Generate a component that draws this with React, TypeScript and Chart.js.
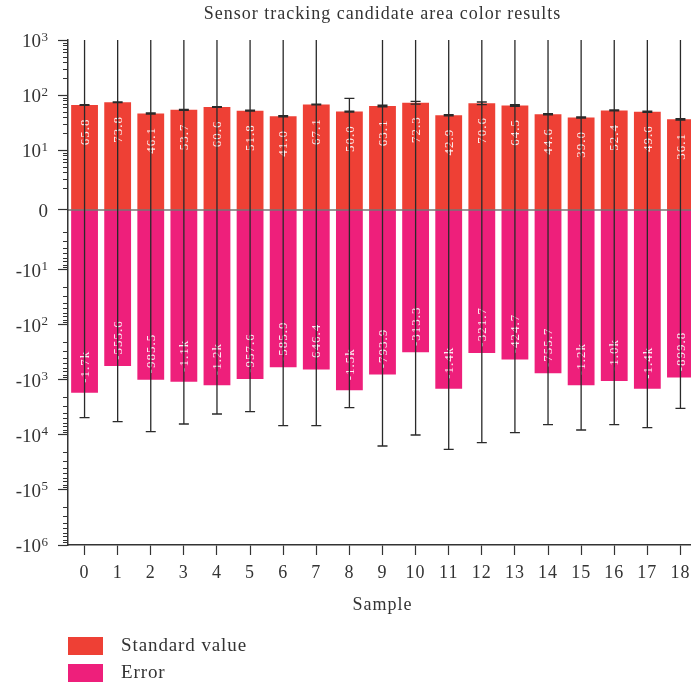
import React, { useEffect, useRef } from 'react';
import { Chart, registerables, Scale } from 'chart.js';

// ---------------- data ----------------
const categories = ['0', '1', '2', '3', '4', '5', '6', '7', '8', '9', '10', '11', '12', '13', '14', '15', '16', '17', '18'];
const standardValues = [65.8, 73.8, 46.1, 53.7, 60.6, 51.8, 41.0, 67.1, 50.0, 63.1, 72.3, 42.9, 70.6, 64.5, 44.6, 39.0, 52.4, 49.6, 36.1];
const standardErrors = [1, 1, 1, 1, 1, 1, 1, 1, 1, 2, 4, 1, 4, 2, 1, 1, 1, 1, 1];
const errorValues = [-1700, -555.6, -985.5, -1080, -1240, -957.6, -585.9, -646.4, -1540, -793.9, -313.3, -1440, -321.7, -424.7, -755.7, -1240, -1040, -1440, -899.8];
const errorErrors = [3150, 5170, 7725, 5230, 2910, 2810, 6185, 6125, 1627, 15056, 9687, 16760, 13480, 8655, 5744, 6870, 5460, 5920, 2370];
const yTickValues = [-1e6, -1e5, -1e4, -1e3, -100, -10, 0, 10, 100, 1000];
const yTickBases = ['-10', '-10', '-10', '-10', '-10', '-10', '0', '10', '10', '10'];
const yTickExponents = ['6', '5', '4', '3', '2', '1', '', '1', '2', '3'];
const seriesLabels = ['Standard value', 'Error'];
const titleText = 'Sensor tracking candidate area color results';
const xTitle = 'Sample';

const POS_COLOR = '#EE4035';
const NEG_COLOR = '#EE1F7B';
const INK = '#333333';
const SERIF = '"Liberation Serif", "Times New Roman", serif';
const LIN = 0.0909;

function tf(v: number) {
  const a = Math.abs(v);
  const s = Math.sign(v);
  return s * (a <= 1 ? a * LIN : LIN + Math.log10(a));
}
function itf(t: number) {
  const a = Math.abs(t);
  const s = Math.sign(t);
  return s * (a <= LIN ? a / LIN : Math.pow(10, a - LIN));
}

class SymlogScale extends Scale {
  static id = 'symlog';
  static defaults = {};
  _startValue = 0;
  _valueRange = 1;
  parse(raw: any) {
    const v = Number(raw);
    return isFinite(v) ? v : null;
  }
  determineDataLimits() {
    const opts: any = this.options;
    this.min = opts.min;
    this.max = opts.max;
  }
  buildTicks() {
    return yTickValues.map((v) => ({ value: v }));
  }
  getLabelForValue(value: number) {
    return String(value);
  }
  configure() {
    super.configure();
    this._startValue = tf(this.min);
    this._valueRange = tf(this.max) - tf(this.min);
  }
  getPixelForValue(value: number) {
    if (value === undefined || value === null || isNaN(value)) return NaN;
    return this.getPixelForDecimal((tf(value) - this._startValue) / this._valueRange);
  }
  getValueForPixel(pixel: number) {
    const d = this.getDecimalForPixel(pixel);
    return itf(this._startValue + d * this._valueRange);
  }
}

Chart.register(...registerables, SymlogScale as any);

function fmt(v: number) {
  if (Math.abs(v) >= 1000) return (v / 1000).toFixed(1) + 'k';
  return v.toFixed(1);
}

function setSpacing(ctx: any, s: string) {
  try { ctx.letterSpacing = s; } catch (e) {}
}

const overlayPlugin = {
  id: 'overlay',
  beforeDraw(chart: any) {
    setSpacing(chart.ctx, '1px');
  },
  afterDatasetsDraw(chart: any) {
    const { ctx, chartArea, scales } = chart;
    const y = scales.y;
    ctx.save();
    // zero line
    const y0 = y.getPixelForValue(0);
    ctx.strokeStyle = INK;
    ctx.lineWidth = 1.2;
    ctx.beginPath();
    ctx.moveTo(chartArea.left, y0);
    ctx.lineTo(chartArea.right, y0);
    ctx.stroke();

    // value labels
    ctx.fillStyle = 'rgba(255,255,255,0.92)';
    ctx.font = '13px ' + SERIF;
    setSpacing(ctx, '1px');
    [0, 1].forEach((di) => {
      const meta = chart.getDatasetMeta(di);
      const data = chart.data.datasets[di].data;
      meta.data.forEach((bar: any, i: number) => {
        const v = data[i];
        const cy = v >= 0 ? bar.y + 27 : bar.y - 26;
        ctx.save();
        ctx.translate(bar.x, cy);
        ctx.rotate(-Math.PI / 2);
        ctx.textAlign = 'center';
        ctx.textBaseline = 'alphabetic';
        ctx.fillText(fmt(v), 0, 4.2);
        ctx.restore();
      });
    });

    // error bars
    ctx.beginPath();
    ctx.rect(chartArea.left, chartArea.top, chartArea.right - chartArea.left, chartArea.bottom - chartArea.top);
    ctx.clip();
    ctx.strokeStyle = '#2a2a2a';
    ctx.lineWidth = 1.3;
    const errs = [standardErrors, errorErrors];
    [0, 1].forEach((di) => {
      const meta = chart.getDatasetMeta(di);
      const data = chart.data.datasets[di].data;
      meta.data.forEach((bar: any, i: number) => {
        const v = data[i];
        const e = errs[di][i];
        const yHi = y.getPixelForValue(v + e);
        const yLo = y.getPixelForValue(v - e);
        const x = bar.x;
        ctx.beginPath();
        ctx.moveTo(x, yHi);
        ctx.lineTo(x, yLo);
        ctx.moveTo(x - 5, yHi);
        ctx.lineTo(x + 5, yHi);
        ctx.moveTo(x - 5, yLo);
        ctx.lineTo(x + 5, yLo);
        ctx.stroke();
      });
    });
    ctx.restore();
  },
  afterDraw(chart: any) {
    const { ctx, chartArea, scales } = chart;
    const y = scales.y;
    ctx.save();
    // minor ticks on y axis
    ctx.strokeStyle = INK;
    ctx.lineWidth = 1;
    ctx.beginPath();
    for (let n = 0; n < 6; n++) {
      for (let k = 2; k <= 9; k++) {
        const m = k * Math.pow(10, n);
        [m, -m].forEach((val) => {
          if (val > y.max || val < y.min) return;
          const py = Math.round(y.getPixelForValue(val)) + 0.5;
          ctx.moveTo(chartArea.left - 5, py);
          ctx.lineTo(chartArea.left, py);
        });
      }
    }
    ctx.stroke();

    // y tick labels with superscript exponents
    setSpacing(ctx, '0px');
    ctx.fillStyle = INK;
    ctx.textAlign = 'right';
    ctx.textBaseline = 'alphabetic';
    const right = chartArea.left - 20;
    yTickValues.forEach((val, i) => {
      const py = y.getPixelForValue(val);
      const exp = yTickExponents[i];
      let x = right;
      if (exp) {
        ctx.font = '13px ' + SERIF;
        const w = ctx.measureText(exp).width;
        ctx.fillText(exp, x, py + 0.5);
        x -= w + 0.5;
      }
      ctx.font = '19px ' + SERIF;
      ctx.fillText(yTickBases[i], x, py + 6.7);
    });

    // legend
    const colors = [POS_COLOR, NEG_COLOR];
    ctx.font = '19px ' + SERIF;
    setSpacing(ctx, '0.9px');
    ctx.textBaseline = 'middle';
    ctx.textAlign = 'left';
    chart.data.datasets.forEach((ds: any, i: number) => {
      const top = chartArea.bottom + 92 + i * 27;
      ctx.fillStyle = colors[i];
      ctx.fillRect(chartArea.left, top, 35, 18);
      ctx.fillStyle = INK;
      ctx.fillText(ds.label, chartArea.left + 53, top + 9.5);
    });
    ctx.restore();
    setSpacing(ctx, '0px');
  },
};

export default function App() {
  const ref = useRef<HTMLCanvasElement>(null);
  useEffect(() => {
    document.body.style.margin = '0';
    document.body.style.overflow = 'hidden';
    const chart = new Chart(ref.current as HTMLCanvasElement, {
      type: 'bar',
      data: {
        labels: categories,
        datasets: [
          {
            label: seriesLabels[0],
            data: standardValues,
            backgroundColor: POS_COLOR,
            borderWidth: 0,
            grouped: false,
            barPercentage: 0.81,
            categoryPercentage: 1,
          } as any,
          {
            label: seriesLabels[1],
            data: errorValues,
            backgroundColor: NEG_COLOR,
            borderWidth: 0,
            grouped: false,
            barPercentage: 0.81,
            categoryPercentage: 1,
          } as any,
        ],
      },
      options: {
        responsive: false,
        animation: false,
        devicePixelRatio: 1,
        layout: { padding: { left: 0, right: 0, top: 0, bottom: 64 } },
        plugins: {
          legend: { display: false },
          tooltip: { enabled: false },
          title: {
            display: true,
            fullSize: false,
            text: titleText,
            color: INK,
            font: { family: SERIF, size: 18, weight: 'normal' },
            padding: { top: 3, bottom: 15.4 },
          },
        },
        scales: {
          x: {
            type: 'category',
            offset: true,
            grid: { display: true, drawOnChartArea: false, offset: false, tickLength: 10, color: INK, tickWidth: 1.2 },
            border: { display: true, color: INK, width: 1.5 },
            ticks: { color: INK, font: { family: SERIF, size: 18 }, padding: 7, maxRotation: 0, autoSkip: false },
            title: { display: true, text: xTitle, color: INK, font: { family: SERIF, size: 18 }, padding: { top: 0, bottom: 4 } },
            afterFit: (s: any) => { s.height = 75; },
          },
          y: {
            type: 'symlog' as any,
            position: 'left',
            min: -1e6,
            max: 1e3,
            grid: { display: true, drawOnChartArea: false, tickLength: 10, color: INK, tickWidth: 1.2 },
            border: { display: true, color: INK, width: 1.5 },
            ticks: { display: false, autoSkip: false },
            afterFit: (s: any) => { s.width = 68; },
          } as any,
        },
      } as any,
      plugins: [overlayPlugin],
    });
    return () => chart.destroy();
  }, []);
  return (
    <div style={{ width: 691, height: 684, overflow: 'hidden', position: 'relative' }}>
      <canvas ref={ref} width={697} height={684} style={{ display: 'block' }} />
    </div>
  );
}
